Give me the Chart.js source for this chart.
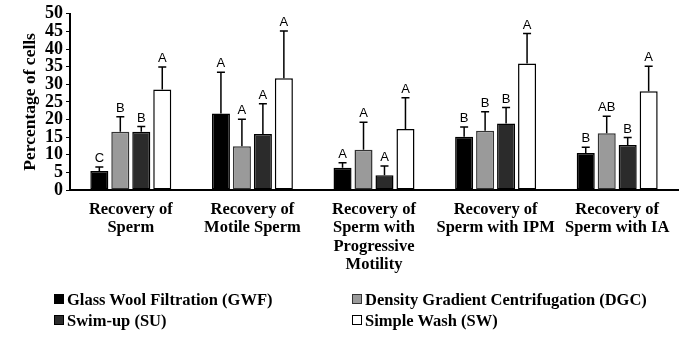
<!DOCTYPE html>
<html>
<head>
<meta charset="utf-8">
<script src="https://cdn.jsdelivr.net/npm/chart.js@4"></script>
<style>
  body { margin: 0; background: #fff; }
  #wrap { position: relative; width: 700px; height: 340px; }
  .lg { position: absolute; font: bold 16.5px "Liberation Serif", serif; color: #000; white-space: nowrap; }
  .lg i { display: inline-block; width: 8px; height: 8px; border: 1px solid #000; margin-right: 3px; vertical-align: 1px; }
</style>
</head>
<body>
<div id="wrap">
  <canvas id="c" width="700" height="340"></canvas>
  <div class="lg" style="left:54px; top:290px"><i style="background:#000"></i>Glass Wool Filtration (GWF)</div>
  <div class="lg" style="left:352px; top:290px"><i style="background:#9a9a9a; border-color:#333"></i>Density Gradient Centrifugation (DGC)</div>
  <div class="lg" style="left:54px; top:311px"><i style="background:#2b2b2b"></i>Swim-up (SU)</div>
  <div class="lg" style="left:352px; top:311px"><i style="background:#fff"></i>Simple Wash (SW)</div>
</div>
<script>
// categories (multi-line)
const categories = [
  ['Recovery of', 'Sperm'],
  ['Recovery of', 'Motile Sperm'],
  ['Recovery of', 'Sperm with', 'Progressive', 'Motility'],
  ['Recovery of', 'Sperm with IPM'],
  ['Recovery of', 'Sperm with IA']
];

// means
const gwf = [5.4, 21.7, 6.3, 15.1, 10.5];
const dgc = [16.5, 12.4, 11.4, 16.8, 16.1];
const su  = [16.5, 15.9, 4.2, 18.9, 12.8];
const sw  = [28.5, 31.7, 17.3, 35.9, 28.0];

// upper error (SD)
const gwfErr = [1.1, 11.7, 1.4, 2.8, 1.6];
const dgcErr = [4.3, 7.7, 7.8, 5.4, 4.8];
const suErr  = [1.5, 8.6, 2.6, 4.5, 2.1];
const swErr  = [6.4, 13.4, 8.9, 8.5, 7.1];

// significance letters
const gwfSig = ['C', 'A', 'A', 'B', 'B'];
const dgcSig = ['B', 'A', 'A', 'B', 'AB'];
const suSig  = ['B', 'A', 'A', 'B', 'B'];
const swSig  = ['A', 'A', 'A', 'A', 'A'];

const yMin = 0, yMax = 50, yStep = 5;

const serif = '"Liberation Serif", "Times New Roman", serif';

const errorBars = {
  id: 'errorBars',
  afterDatasetsDraw(chart) {
    const ctx = chart.ctx;
    const yScale = chart.scales.y;
    ctx.save();
    chart.data.datasets.forEach((ds, i) => {
      const meta = chart.getDatasetMeta(i);
      meta.data.forEach((bar, j) => {
        const top = yScale.getPixelForValue(ds.data[j] + ds.err[j]);
        ctx.strokeStyle = '#000';
        ctx.lineWidth = 1.5;
        ctx.beginPath();
        ctx.moveTo(bar.x, bar.y);
        ctx.lineTo(bar.x, top);
        ctx.moveTo(bar.x - 4, top);
        ctx.lineTo(bar.x + 4, top);
        ctx.stroke();
        ctx.fillStyle = '#000';
        ctx.font = '13px "Liberation Sans", Arial, sans-serif';
        ctx.textAlign = 'center';
        ctx.textBaseline = 'bottom';
        ctx.fillText(ds.sig[j], bar.x, top - 2);
      });
    });
    ctx.restore();
  }
};

function makeSet(label, data, err, sig, fill, border) {
  return {
    label, data, err, sig,
    backgroundColor: fill,
    borderColor: border,
    borderWidth: 1.5,
    borderSkipped: false,
    categoryPercentage: 0.69,
    barPercentage: 0.86
  };
}

new Chart(document.getElementById('c'), {
  type: 'bar',
  data: {
    labels: categories,
    datasets: [
      makeSet('Glass Wool Filtration (GWF)', gwf, gwfErr, gwfSig, '#000', '#000'),
      makeSet('Density Gradient Centrifugation (DGC)', dgc, dgcErr, dgcSig, '#9a9a9a', '#333'),
      makeSet('Swim-up (SU)', su, suErr, suSig, '#2b2b2b', '#000'),
      makeSet('Simple Wash (SW)', sw, swErr, swSig, '#fff', '#000')
    ]
  },
  options: {
    responsive: false,
    animation: false,
    layout: { padding: { top: 11, right: 22, left: 20, bottom: 0 } },
    plugins: {
      legend: { display: false },
      tooltip: { enabled: false }
    },
    scales: {
      x: {
        afterFit: s => { s.height = 150; },
        grid: { display: false, drawTicks: false },
        border: { color: '#000', width: 2 },
        ticks: {
          color: '#000',
          padding: 11,
          maxRotation: 0,
          autoSkip: false,
          font: { family: serif, size: 16.5, weight: 'bold', lineHeight: 1.1 }
        }
      },
      y: {
        min: yMin,
        max: yMax,
        afterFit: s => { s.width = 50; },
        grid: { drawOnChartArea: false, tickLength: 4, color: '#000' },
        border: { color: '#000', width: 2 },
        title: {
          display: true,
          text: 'Percentage of cells',
          color: '#000',
          padding: { top: 0, bottom: 0 },
          font: { family: serif, size: 17.5, weight: 'bold' }
        },
        ticks: {
          color: '#000',
          padding: 3,
          stepSize: yStep,
          autoSkip: false,
          font: { family: serif, size: 18, weight: 'bold' }
        }
      }
    }
  },
  plugins: [errorBars]
});
</script>
</body>
</html>
